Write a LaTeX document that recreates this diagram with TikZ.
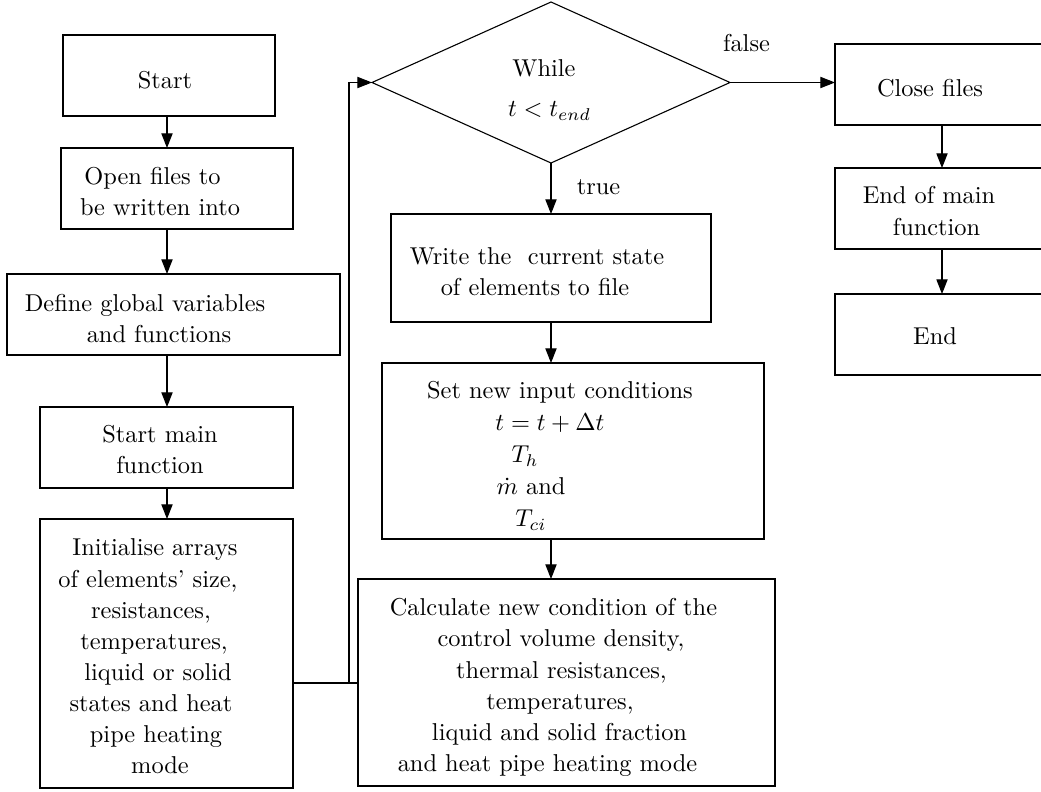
\documentclass[tikz,border=0pt]{standalone}
\usetikzlibrary{arrows.meta,shapes.geometric,fit}
% one drawing unit = one pixel of the layout grid
\newlength{\pxu}\setlength{\pxu}{0.41pt}
% a centred text line moved sideways by #1 grid units
\newcommand{\lineat}[2]{\makebox[0pt]{\hspace*{#1\pxu}\hspace*{#1\pxu}#2}}
\begin{document}
\begin{tikzpicture}[x=0.41pt,y=-0.41pt,
  stepbox/.style={draw, rectangle, inner sep=0pt, outer sep=0pt, line width=0.45pt},
  txt/.style={inner sep=0pt, align=center, font=\fontsize{10}{12.75}\selectfont},
  arr/.style={-{Triangle[length=6pt,width=4.6pt]}, line width=0.45pt},
  link/.style={line width=0.45pt}]
\useasboundingbox (0,0) rectangle (1041,792);

% ---- left column
\node[stepbox, fit={(63,35)(275,116)}] (start) {};
\node[txt] (startT) at (165,80) {Start};
\node[stepbox, fit={(61,148)(293,229)}] (open) {};
\node[txt] (openT) at (160,191.5) {\lineat{-7.5}{Open files to}\\\lineat{0}{be written into}};
\node[stepbox, fit={(7,274)(340,355)}] (def) {};
\node[txt] (defT) at (152,318.5) {\lineat{-7}{Define global variables}\\\lineat{7}{and functions}};
\node[stepbox, fit={(40,407)(293,488)}] (main) {};
\node[txt] (mainT) at (160,449.5) {Start main\\function};
\node[stepbox, fit={(40,519)(293,788)}] (init) {};
\node[txt] (initT) at (155,656.5) {\lineat{0}{Initialise arrays}\\
  \lineat{-7}{of elements' size,}\\
  \lineat{-4}{resistances,}\\
  \lineat{-1}{temperatures,}\\
  \lineat{3}{liquid or solid}\\
  \lineat{-4}{states and heat}\\
  \lineat{1}{pipe heating}\\
  \lineat{5}{mode}};

% ---- decision
\node[diamond, draw, inner sep=0pt, outer sep=0pt, line width=0.45pt,
      minimum width={358*0.41pt}, minimum height={161*0.41pt}] (dia) at (551,82.5) {};
\node[txt, font=\fontsize{10}{16.4}\selectfont] (diaT) at (547,90)
  {\lineat{-3}{While}\\\lineat{2.5}{$t<t_{end}$}};
\node[txt] (falseT) at (746.5,43) {false};
\node[txt] (trueT) at (598.5,187) {true};

% ---- middle column
\node[stepbox, fit={(391,214)(711,322)}] (write) {};
\node[txt] (writeT) at (536,272) {\lineat{1}{Write the~ current state}\\\lineat{-1}{of elements to file}};
\node[stepbox, fit={(382,363)(764,539)}] (set) {};
\node[txt, font=\fontsize{10}{13.1}\selectfont] (setT) at (545,456) {\lineat{15}{Set new input conditions}\\
  \lineat{5}{$t=t+\Delta t$}\\
  \lineat{-20}{$T_h$}\\
  \lineat{-14}{$\dot{m}$ and}\\
  \lineat{-14}{$T_{ci}$}};
\node[stepbox, fit={(358,579)(775,786)}] (calc) {};
\node[txt] (calcT) at (556,687.5) {\lineat{-2.5}{Calculate new condition of the}\\
  \lineat{5}{control volume density,}\\
  \lineat{5.5}{thermal resistances,}\\
  \lineat{4}{temperatures,}\\
  \lineat{3.5}{liquid and solid fraction}\\
  \lineat{-8.5}{and heat pipe heating mode}};

% ---- right column
\node[stepbox, fit={(835,44)(1049,125)}] (close) {};
\node[txt] (closeT) at (930,88) {Close files};
\node[stepbox, fit={(835,168)(1049,249)}] (endmain) {};
\node[txt] (endmainT) at (933,211) {\lineat{-4}{End of main}\\\lineat{3.5}{function}};
\node[stepbox, fit={(835,294)(1049,375)}] (end) {};
\node[txt] (endT) at (935,336) {End};

% ---- connectors
\coordinate (colL) at (167,0);
\coordinate (colM) at (551,0);
\coordinate (j) at (349,683);
\draw[arr] (start.south -| colL) -- (open.north -| colL);
\draw[arr] (open.south -| colL) -- (def.north -| colL);
\draw[arr] (def.south -| colL) -- (main.north -| colL);
\draw[arr] (main.south -| colL) -- (init.north -| colL);
\draw[link] (init.east |- j) -- (calc.west |- j);
\draw[arr] (j) |- (dia.west);
\draw[arr] (dia.south) -- (write.north -| dia.south);
\draw[arr] (write.south -| colM) -- (set.north -| colM);
\draw[arr] (set.south -| colM) -- (calc.north -| colM);
\draw[arr] (dia.east) -- (dia.east -| close.west);
\draw[arr] (close.south) -- (endmain.north);
\draw[arr] (endmain.south) -- (end.north);
\end{tikzpicture}
\end{document}
